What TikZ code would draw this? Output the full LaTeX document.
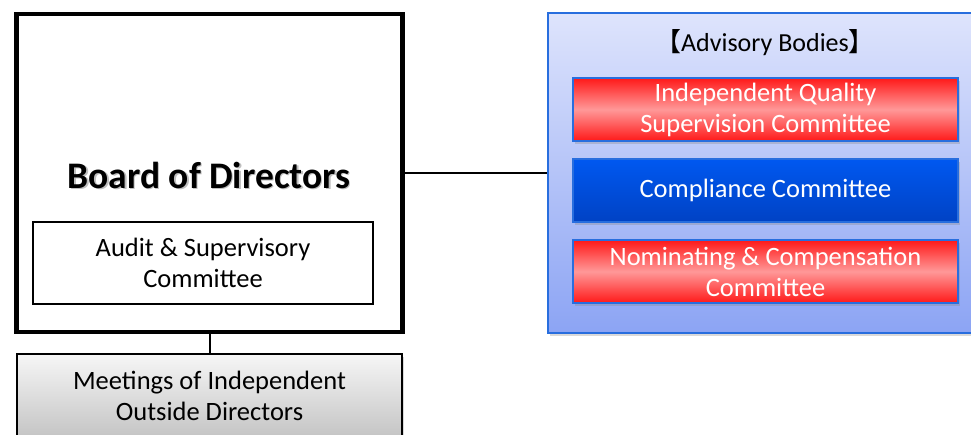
\documentclass[tikz,border=0pt]{standalone}
\usepackage{fontspec}
\setmainfont{Carlito}
\newfontfamily\cjk{Noto Sans CJK JP}
\usetikzlibrary{positioning,shadows}

\definecolor{frameblue}{RGB}{40,110,222}
\definecolor{panetop}{RGB}{222,228,252}
\definecolor{panebot}{RGB}{140,164,244}
\definecolor{rededge}{RGB}{255,25,25}
\definecolor{redmid}{RGB}{255,152,152}
\definecolor{bluetop}{RGB}{0,88,240}
\definecolor{bluebot}{RGB}{0,66,196}
\definecolor{greytop}{RGB}{246,246,246}
\definecolor{greybot}{RGB}{196,196,196}

\tikzset{
  boxshadow/.style={drop shadow={shadow xshift=2pt,shadow yshift=-3pt,opacity=0.3}},
  boardbox/.style={draw=black, line width=4.5pt, fill=white, minimum width=386pt, minimum height=318pt, inner sep=0pt},
  auditbox/.style={draw=black, line width=1.5pt, fill=white, minimum width=340pt, minimum height=82pt, align=center, inner sep=0pt},
  meetbox/.style={draw=black, line width=1.5pt, top color=greytop, bottom color=greybot, minimum width=385pt, minimum height=84pt, align=center, inner sep=0pt, boxshadow},
  panebox/.style={draw=frameblue, line width=2pt, top color=panetop, bottom color=panebot, minimum width=434pt, minimum height=319pt, inner sep=0pt, boxshadow},
  redbox/.style={draw=frameblue, line width=2pt, top color=rededge, bottom color=rededge, middle color=redmid, minimum width=385pt, minimum height=63pt, align=center, text=white, inner sep=0pt, outer sep=0pt, boxshadow},
  bluebox/.style={draw=frameblue, line width=2pt, top color=bluetop, bottom color=bluebot, minimum width=385pt, minimum height=63pt, align=center, text=white, inner sep=0pt, outer sep=0pt, boxshadow},
  link/.style={draw=black, line width=2pt}
}

\newcommand{\boxfont}{\fontsize{26.5}{31}\selectfont}
\newcommand{\boardfont}{\fontsize{37.5}{42}\selectfont\bfseries}

\begin{document}
\begin{tikzpicture}[x=1pt,y=-1pt]
\useasboundingbox (0,0) rectangle (971,435);
\clip (0,0) rectangle (971,435);

% board side
\node[boardbox] (board) at (209.5,173) {};
\node[text=black!25, font=\boardfont] (boardshade) at (210.5,176.5) {Board of Directors};
\node[font=\boardfont] (boardlbl) at (209,175) {Board of Directors};
\node[auditbox, font=\boxfont] (audit) at (203,263) {Audit \& Supervisory\\Committee};

\node[meetbox, font=\boxfont] (meeting) at (209.5,396) {Meetings of Independent\\Outside Directors};

% advisory bodies
\node[panebox] (advisory) at (765,173) {};
\node[font=\fontsize{26}{30}\selectfont] (advlbl) at (765,43) {{\cjk 【}Advisory Bodies{\cjk 】}};

\node[redbox, font=\boxfont] (quality) at (765.5,109.5) {Independent Quality\\Supervision Committee};
\node[bluebox, font=\boxfont, below=18pt of quality] (compliance) {Compliance Committee};
\node[redbox, font=\boxfont, below=18pt of compliance] (nominating) {Nominating \& Compensation\\Committee};

\draw[link] (board.east) -- (advisory.west);
\draw[link] (board.south) -- (meeting.north);
\end{tikzpicture}
\end{document}
